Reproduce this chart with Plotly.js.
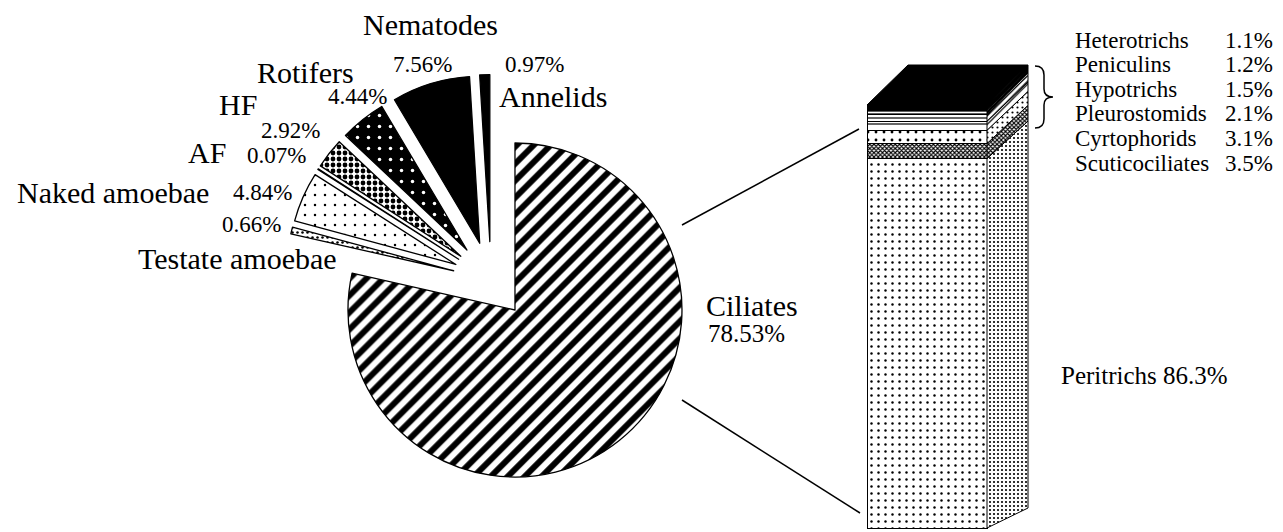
<!DOCTYPE html>
<html>
<head>
<meta charset="utf-8">
<script src="https://cdn.plot.ly/plotly-3.0.1.min.js"></script>
<style>
html,body{margin:0;padding:0;background:#fff;}
#chart{width:1283px;height:532px;}
</style>
</head>
<body>
<div id="chart"></div>
<script>
// ---------------- DATA ----------------
const pieLabels = ['Ciliates', 'Testate amoebae', 'Naked amoebae', 'AF', 'HF', 'Rotifers', 'Nematodes', 'Annelids'];
const pieValues = [78.53, 0.66, 4.84, 0.07, 2.92, 4.44, 7.56, 0.97];

const barLabels = ['Peritrichs', 'Scuticociliates', 'Cyrtophorids', 'Pleurostomids', 'Hypotrichs', 'Peniculins', 'Heterotrichs'];
const barValues = [86.3, 3.5, 3.1, 2.1, 1.5, 1.2, 1.1];

// ---------------- STYLE / LAYOUT ----------------
const W = 1283, H = 532;
const FONT = 'Liberation Serif, Times New Roman, serif';
const px = x => x / W;
const py = y => 1 - y / H;

// pie geometry (pixels)
const pieCx = 491, pieCy = 280, pieR = 167, pieRPull = 0.23;

const pieStyle = {
  'Ciliates':        {shape: '/', fg: '#000', bg: '#fff', size: 12, sol: 0.5},
  'Testate amoebae': {shape: '.', fg: '#000', bg: '#fff', size: 5,  sol: 0.2},
  'Naked amoebae':   {shape: '.', fg: '#000', bg: '#fff', size: 10, sol: 0.05},
  'AF':              {shape: '',  fg: '#000', bg: '#000', size: 8,  sol: 0.3},
  'HF':              {shape: '.', fg: '#000', bg: '#fff', size: 6,  sol: 0.5},
  'Rotifers':        {shape: '.', fg: '#fff', bg: '#000', size: 11, sol: 0.08},
  'Nematodes':       {shape: '',  fg: '#000', bg: '#000', size: 8,  sol: 0.3},
  'Annelids':        {shape: '',  fg: '#000', bg: '#000', size: 8,  sol: 0.3}
};

// label positions (pixels): name centre, percent centre
const pieLabelPos = {
  'Nematodes':       {name: [430, 25],  pct: [422, 64]},
  'Annelids':        {name: [553, 97],  pct: [534, 64]},
  'Rotifers':        {name: [305, 72],  pct: [357, 97]},
  'HF':              {name: [238, 104], pct: [290, 130]},
  'AF':              {name: [207, 152], pct: [276, 156]},
  'Naked amoebae':   {name: [113, 193], pct: [262, 193]},
  'Testate amoebae': {name: [237, 258], pct: [251, 225]},
  'Ciliates':        {name: [752, 305], pct: [747, 333]}
};

// bar geometry (pixels)
const barL = 867, barR = 987, barBottom = 528, barTop = 105;
const depthX = 41, depthYBottom = 20, depthYTop = 40;

const barStyle = {
  'Peritrichs':      {front: {shape: '.', fg: '#000', bg: '#fff', size: 7, sol: 0.1},  side: {shape: '.', fg: '#000', bg: '#fff', size: 4, sol: 0.22}},
  'Scuticociliates': {front: {shape: 'x', fg: '#000', bg: '#fff', size: 3, sol: 0.6},  side: {shape: 'x', fg: '#000', bg: '#fff', size: 3, sol: 0.6}},
  'Cyrtophorids':    {front: {shape: '.', fg: '#000', bg: '#fff', size: 8, sol: 0.1},  side: {shape: '.', fg: '#000', bg: '#fff', size: 5, sol: 0.15}},
  'Pleurostomids':   {front: {shape: '-', fg: '#000', bg: '#fff', size: 8, sol: 0.15}, side: {shape: '/', fg: '#000', bg: '#fff', size: 6, sol: 0.2}},
  'Hypotrichs':      {front: {shape: '-', fg: '#000', bg: '#fff', size: 4, sol: 0.3},  side: {shape: '/', fg: '#000', bg: '#fff', size: 4, sol: 0.3}},
  'Peniculins':      {front: {shape: '-', fg: '#fff', bg: '#000', size: 5, sol: 0.35}, side: {shape: '/', fg: '#fff', bg: '#000', size: 5, sol: 0.35}},
  'Heterotrichs':    {front: {shape: '',  fg: '#000', bg: '#000', size: 5, sol: 0.3},  side: {shape: '',  fg: '#000', bg: '#000', size: 5, sol: 0.3}}
};

// right labels
const rightLabelX = 1073, rightPctX = 1275, rightRowY0 = 40, rightRowDy = 24.6;

// ---------------- BUILD ----------------
const traces = [];

const half = pieR * (1 + pieRPull);
traces.push({
  type: 'pie',
  labels: pieLabels,
  values: pieValues,
  sort: false,
  direction: 'clockwise',
  rotation: 0,
  pull: pieLabels.map(() => pieRPull),
  textinfo: 'none',
  hoverinfo: 'label+percent',
  showlegend: false,
  domain: {
    x: [px(pieCx - half), px(pieCx + half)],
    y: [py(pieCy + half), py(pieCy - half)]
  },
  marker: {
    colors: pieLabels.map(l => pieStyle[l].bg),
    line: {color: '#000', width: 1.3},
    pattern: {
      shape: pieLabels.map(l => pieStyle[l].shape),
      fgcolor: pieLabels.map(l => pieStyle[l].fg),
      bgcolor: pieLabels.map(l => pieStyle[l].bg),
      size: pieLabels.map(l => pieStyle[l].size),
      solidity: pieLabels.map(l => pieStyle[l].sol),
      fillmode: 'replace'
    }
  }
});

const total = barValues.reduce((a, b) => a + b, 0);
const scale = (barBottom - barTop) / total;
const yRange = [(barBottom - H) / scale, barBottom / scale];
const barCenter = (barL + barR) / 2, barWidth = barR - barL;
const off = y => (depthYBottom + (depthYTop - depthYBottom) * (y / total)) / scale;

barLabels.forEach((lab, i) => {
  const st = barStyle[lab].front;
  traces.push({
    type: 'bar',
    x: [barCenter],
    y: [barValues[i]],
    width: [barWidth],
    name: lab,
    showlegend: false,
    hoverinfo: 'name+y',
    marker: {
      color: st.bg,
      line: {color: '#000', width: 1},
      pattern: {shape: st.shape, fgcolor: st.fg, bgcolor: st.bg, size: st.size, solidity: st.sol, fillmode: 'replace'}
    }
  });
});

let cum = 0;
barLabels.forEach((lab, i) => {
  const y0 = cum, y1 = cum + barValues[i];
  cum = y1;
  const st = barStyle[lab].side;
  const tr = {
    type: 'scatter',
    mode: 'lines',
    x: [barR, barR + depthX, barR + depthX, barR, barR],
    y: [y0, y0 + off(y0), y1 + off(y1), y1, y0],
    fill: 'toself',
    fillcolor: st.bg,
    line: {color: '#000', width: 1},
    hoverinfo: 'skip',
    showlegend: false
  };
  if (st.shape) tr.fillpattern = {shape: st.shape, fgcolor: st.fg, bgcolor: st.bg, size: st.size, solidity: st.sol, fillmode: 'replace'};
  traces.push(tr);
});

traces.push({
  type: 'scatter',
  mode: 'lines',
  x: [barL, barR, barR + depthX, barL + depthX, barL],
  y: [total, total, total + off(total), total + off(total), total],
  fill: 'toself',
  fillcolor: '#000',
  line: {color: '#000', width: 1},
  hoverinfo: 'skip',
  showlegend: false
});

// ---------------- ANNOTATIONS ----------------
const annotations = [];
pieLabels.forEach((lab, i) => {
  const pos = pieLabelPos[lab];
  const big = lab === 'Ciliates';
  annotations.push({
    xref: 'paper', yref: 'paper', x: px(pos.name[0]), y: py(pos.name[1]),
    xanchor: 'center', yanchor: 'middle', showarrow: false,
    text: lab, font: {family: FONT, size: 30, color: '#000'}
  });
  annotations.push({
    xref: 'paper', yref: 'paper', x: px(pos.pct[0]), y: py(pos.pct[1]),
    xanchor: 'center', yanchor: 'middle', showarrow: false,
    text: pieValues[i].toFixed(2) + '%', font: {family: FONT, size: big ? 25 : 23, color: '#000'}
  });
});

const smallGroups = barLabels.slice(1).reverse();
smallGroups.forEach((lab, r) => {
  const v = barValues[barLabels.indexOf(lab)];
  const yy = rightRowY0 + r * rightRowDy;
  annotations.push({
    xref: 'paper', yref: 'paper', x: px(rightLabelX), y: py(yy),
    xanchor: 'left', yanchor: 'middle', showarrow: false,
    text: lab, font: {family: FONT, size: 23, color: '#000'}
  });
  annotations.push({
    xref: 'paper', yref: 'paper', x: px(rightPctX), y: py(yy),
    xanchor: 'right', yanchor: 'middle', showarrow: false,
    text: v.toFixed(1) + '%', font: {family: FONT, size: 23, color: '#000'}
  });
});
annotations.push({
  xref: 'paper', yref: 'paper', x: px(1144), y: py(375),
  xanchor: 'center', yanchor: 'middle', showarrow: false,
  text: barLabels[0] + ' ' + barValues[0].toFixed(1) + '%', font: {family: FONT, size: 25, color: '#000'}
});

// ---------------- SHAPES (connectors, brace) ----------------
const P = (x, y) => px(x).toFixed(5) + ',' + py(y).toFixed(5);
const braceX = 1035, braceMid = 1044, braceTip = 1053, braceTop = 66, braceBot = 128;
const bm = (braceTop + braceBot) / 2;
const bracePath = 'M ' + P(braceX, braceTop) +
  ' Q ' + P(braceMid, braceTop) + ' ' + P(braceMid, braceTop + 9) +
  ' L ' + P(braceMid, bm - 8) +
  ' Q ' + P(braceMid, bm) + ' ' + P(braceTip, bm) +
  ' Q ' + P(braceMid, bm) + ' ' + P(braceMid, bm + 8) +
  ' L ' + P(braceMid, braceBot - 9) +
  ' Q ' + P(braceMid, braceBot) + ' ' + P(braceX, braceBot);

const shapes = [
  {type: 'line', xref: 'paper', yref: 'paper', x0: px(682), y0: py(225), x1: px(859), y1: py(129), line: {color: '#000', width: 1.5}},
  {type: 'line', xref: 'paper', yref: 'paper', x0: px(682), y0: py(400), x1: px(860), y1: py(513), line: {color: '#000', width: 1.5}},
  {type: 'path', xref: 'paper', yref: 'paper', path: bracePath, line: {color: '#000', width: 1.5}}
];

const layout = {
  width: W, height: H,
  margin: {l: 0, r: 0, t: 0, b: 0, pad: 0},
  paper_bgcolor: '#fff',
  plot_bgcolor: 'rgba(0,0,0,0)',
  showlegend: false,
  barmode: 'stack',
  bargap: 0,
  xaxis: {domain: [0, 1], range: [0, W], visible: false, fixedrange: true},
  yaxis: {domain: [0, 1], range: yRange, visible: false, fixedrange: true},
  annotations: annotations,
  shapes: shapes
};

Plotly.newPlot('chart', traces, layout, {staticPlot: true, displayModeBar: false});
</script>
</body>
</html>
